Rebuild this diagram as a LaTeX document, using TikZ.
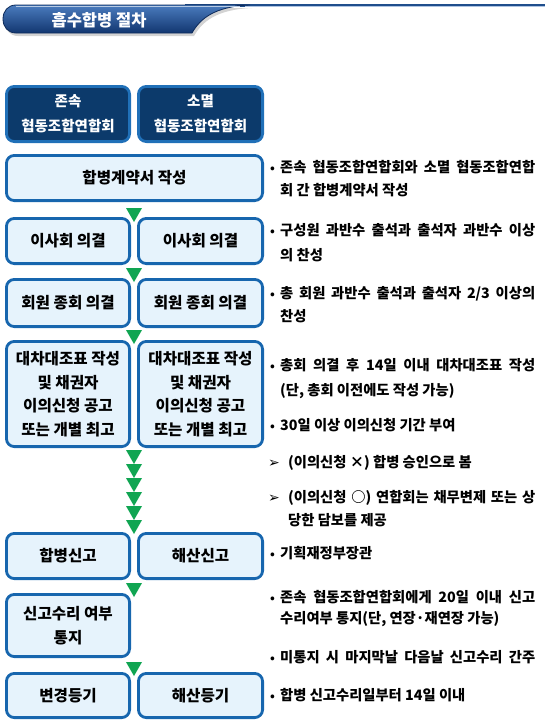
\documentclass[tikz,border=0pt]{standalone}
\usepackage{fontspec}
\setmainfont{Noto Sans CJK KR}
\newfontfamily\dv{DejaVu Sans}
\usetikzlibrary{shadows}
\definecolor{bord}{HTML}{1766AE}
\definecolor{boxfill}{HTML}{E6F3FC}
\definecolor{dfill}{HTML}{0C3A6B}
\definecolor{dbord}{HTML}{2070B8}
\definecolor{arrgreen}{HTML}{10A552}
\definecolor{hdrtop}{HTML}{4A7CBE}
\definecolor{hdrbot}{HTML}{123670}
\definecolor{hdrline}{HTML}{1F4E8C}
\tikzset{
  box/.style={draw=bord, fill=boxfill, line width=2.8pt, rounded corners=8pt,
    align=center, inner sep=0pt, font=\fontsize{15.6}{23.5}\selectfont\bfseries},
  dbox/.style={box, draw=dbord, fill=dfill, text=white,
    font=\fontsize{14.5}{25}\selectfont\bfseries},
  tri/.style={fill=arrgreen},
  note/.style={anchor=base west, inner sep=0pt, font=\fontsize{14.3}{16}\selectfont\bfseries},
  bul/.style={anchor=base west, inner sep=0pt, font=\fontsize{12}{14}\selectfont\bfseries},
  arr/.style={anchor=base west, inner sep=0pt, font=\dv\bfseries\fontsize{14}{16}\selectfont},
}
\newsavebox\jbox
\newcommand{\jline}[2]{\sbox\jbox{#2}%
  \ifdim\wd\jbox>#1\relax
    \pgfmathsetmacro\jfac{#1/\wd\jbox}\scalebox{\jfac}[1]{\usebox\jbox}%
  \else\makebox[#1][s]{#2}\fi}
\begin{document}
\begin{tikzpicture}[x=1pt,y=-1pt]
\useasboundingbox (0,0) rectangle (545,720);

% header
\fill[hdrline] (185,3.8) rectangle (545,7.2);
\draw[white!55!hdrtop, line width=0.7pt] (245,6.6) -- (545,6.6);
\path[top color=hdrtop, bottom color=hdrbot, draw=hdrbot!80!black, line width=0.8pt,
  drop shadow={shadow xshift=2pt, shadow yshift=-3pt, opacity=0.35}]
  (16,5) -- (250,5) .. controls (214,6.5) and (200,19) .. (192,33) -- (16,33)
  .. controls (8,33) and (3,27) .. (3,19) .. controls (3,11) and (8,5) .. (16,5) -- cycle;
\draw[white!60!hdrtop, line width=0.8pt] (16,6) -- (240,6);
\node[text=white, inner sep=0pt, font=\fontsize{16.5}{18}\selectfont\bfseries] (title) at (99,20) {흡수합병 절차};

% boxes
\node[dbox, minimum width=123.2pt, minimum height=55.2pt] (d1) at (68,114) {존속\\협동조합연합회};
\node[dbox, minimum width=124.2pt, minimum height=55.2pt] (d2) at (200.5,114) {소멸\\협동조합연합회};
\node[box, minimum width=256.2pt, minimum height=45.2pt] (b1) at (134.5,178) {합병계약서 작성};
\node[box, minimum width=123.2pt, minimum height=45.2pt] (b2l) at (68,241) {이사회 의결};
\node[box, minimum width=124.2pt, minimum height=45.2pt] (b2r) at (200.5,241) {이사회 의결};
\node[box, minimum width=123.2pt, minimum height=47.2pt] (b3l) at (68,303) {회원 종회 의결};
\node[box, minimum width=124.2pt, minimum height=47.2pt] (b3r) at (200.5,303) {회원 종회 의결};
\node[box, minimum width=123.2pt, minimum height=105.2pt] (b4l) at (68,394) {대차대조표 작성\\및 채권자\\이의신청 공고\\또는 개별 최고};
\node[box, minimum width=124.2pt, minimum height=105.2pt] (b4r) at (200.5,394) {대차대조표 작성\\및 채권자\\이의신청 공고\\또는 개별 최고};
\node[box, minimum width=123.2pt, minimum height=45.2pt] (b5l) at (68,556) {합병신고};
\node[box, minimum width=124.2pt, minimum height=45.2pt] (b5r) at (200.5,556) {해산신고};
\node[box, minimum width=123.2pt, minimum height=62.2pt] (b6) at (68,625.5) {신고수리 여부\\통지};
\node[box, minimum width=123.2pt, minimum height=44.2pt] (b7l) at (68,695.5) {변경등기};
\node[box, minimum width=124.2pt, minimum height=44.2pt] (b7r) at (200.5,695.5) {해산등기};

% green triangles
\foreach \t in {208,268,330,450,464,478,492,506,520,583,662}
  \fill[tri] (126,\t) -- (142,\t) -- (134,\t+14) -- cycle;

% notes
\node[bul] (n1b) at (270,172) {•};
\node[note] (n1a) at (280,172) {\jline{255pt}{존속 협동조합연합회와 소멸 협동조합연합}};
\node[note] (n1c) at (280,195) {회 간 합병계약서 작성};
\node[bul] (n2b) at (270,235) {•};
\node[note] (n2a) at (280,235) {\jline{255pt}{구성원 과반수 출석과 출석자 과반수 이상}};
\node[note] (n2c) at (280,260) {의 찬성};
\node[bul] (n3b) at (270,298) {•};
\node[note] (n3a) at (280,298) {\jline{255pt}{총 회원 과반수 출석과 출석자 2/3 이상의}};
\node[note] (n3c) at (280,321) {찬성};
\node[bul] (n4b) at (270,370) {•};
\node[note] (n4a) at (280,370) {\jline{255pt}{총회 의결 후 14일 이내 대차대조표 작성}};
\node[note] (n4c) at (280,395) {(단, 총회 이전에도 작성 가능)};
\node[bul] (n5b) at (270,430) {•};
\node[note] (n5a) at (280,430) {30일 이상 이의신청 기간 부여};
\node[arr] (n6b) at (268,467) {➢};
\node[note] (n6a) at (288,467) {(이의신청 ×) 합병 승인으로 봄};
\node[arr] (n7b) at (268,502) {➢};
\node[note] (n7a) at (288,502) {\jline{247pt}{(이의신청 ○) 연합회는 채무변제 또는 상}};
\node[note] (n7c) at (288,525) {당한 담보를 제공};
\node[bul] (n8b) at (270,558) {•};
\node[note] (n8a) at (280,558) {기획재정부장관};
\node[bul] (n9b) at (270,602) {•};
\node[note] (n9a) at (280,602) {\jline{255pt}{존속 협동조합연합회에게 20일 이내 신고}};
\node[note] (n9c) at (280,623) {수리여부 통지(단, 연장·재연장 가능)};
\node[bul] (n10b) at (270,662) {•};
\node[note] (n10a) at (280,662) {\jline{255pt}{미통지 시 마지막날 다음날 신고수리 간주}};
\node[bul] (n11b) at (270,700) {•};
\node[note] (n11a) at (280,700) {합병 신고수리일부터 14일 이내};
\end{tikzpicture}
\end{document}
